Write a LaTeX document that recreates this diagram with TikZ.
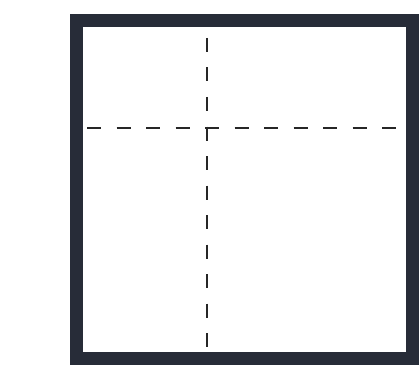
\documentclass[tikz,border=0pt]{standalone}
\usepackage{tikz}
\usetikzlibrary{calc}
\definecolor{inkdark}{HTML}{272C38}
\tikzset{
  frameline/.style={draw=inkdark,line width=13pt,line join=miter},
  cutline/.style={draw=black!85,line width=1.6pt,dash pattern=on 14pt off 15.5pt}
}

\begin{document}
\begin{tikzpicture}[x=1pt,y=-1pt]
      \useasboundingbox[fill=white] (0,0) rectangle (419,374);

      % outer frame
      \draw[frameline] (76,21) -- (412,21) -- (412,358) -- (76,358) -- cycle;

      % dashed division lines
      \coordinate (vtop) at (207,38);
      \coordinate (vbot) at (207,347);
      \coordinate (hleft) at (87,128);
      \coordinate (hright) at (401,128);
      \draw[cutline] (vtop) -- (vbot);
      \draw[cutline] (hleft) -- (hright);
    \end{tikzpicture}
\end{document}
